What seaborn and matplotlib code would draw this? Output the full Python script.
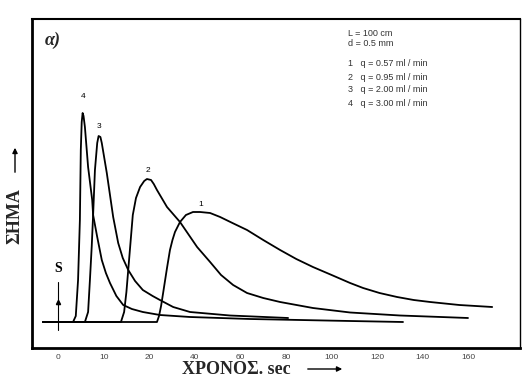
import numpy as np
import pandas as pd
import matplotlib
matplotlib.use("Agg")
import matplotlib.pyplot as plt
import seaborn as sns

# ---- data (time in sec, signal in arbitrary units) ----
t1 = [-3.3, 23.4, 24.3, 25.2, 26.1, 27.8, 29.1, 30.2, 31.3, 33.5, 36.1, 39.2, 42.3, 46.7, 51.1, 56.5, 62.9, 70.0, 77.4, 84.5, 91.8, 100.0, 108.1, 113.8, 121.0, 128.7, 136.0, 143.2, 156.0, 170.4]
s1 = [0.0, 0.0, 0.6, 1.6, 2.9, 5.4, 7.2, 8.2, 9.0, 10.0, 10.7, 11.0, 11.0, 10.9, 10.5, 9.9, 9.2, 8.2, 7.2, 6.3, 5.5, 4.7, 3.9, 3.4, 2.9, 2.5, 2.2, 2.0, 1.7, 1.5]

t2 = [-3.3, 13.8, 14.5, 15.0, 15.4, 16.4, 17.1, 18.0, 18.9, 19.5, 20.8, 22.0, 23.4, 27.8, 33.5, 41.0, 46.7, 51.5, 56.8, 62.9, 70.0, 77.4, 91.8, 108.1, 130.0, 159.8]
s2 = [0.0, 0.0, 1.0, 3.0, 5.2, 10.7, 12.4, 13.5, 14.1, 14.3, 14.2, 13.8, 13.2, 11.5, 10.0, 7.5, 6.0, 4.7, 3.7, 2.9, 2.4, 2.0, 1.4, 0.95, 0.65, 0.4]

t3 = [-3.3, 5.9, 6.6, 7.0, 7.4, 7.7, 8.1, 8.6, 8.9, 9.3, 9.6, 10.7, 12.1, 13.2, 14.2, 15.4, 16.9, 18.6, 21.5, 24.7, 30.5, 37.9, 55.4, 80.9]
s3 = [0.0, 0.0, 1.0, 4.2, 7.6, 10.7, 15.2, 17.9, 18.6, 18.5, 17.9, 14.9, 10.5, 7.9, 6.4, 5.2, 4.1, 3.2, 2.6, 2.2, 1.5, 1.0, 0.65, 0.4]

t4 = [-3.3, 3.3, 3.9, 4.4, 4.8, 5.0, 5.2, 5.4, 5.6, 5.9, 6.6, 7.5, 7.7, 8.6, 9.6, 10.5, 11.4, 12.8, 14.3, 16.2, 18.6, 24.7, 37.9, 64.2, 108.1, 131.3]
s4 = [0.0, 0.0, 0.6, 4.2, 10.2, 17.2, 20.0, 20.9, 20.6, 19.5, 15.5, 12.2, 10.7, 8.5, 6.2, 4.9, 3.9, 2.6, 1.7, 1.3, 1.0, 0.7, 0.5, 0.3, 0.1, 0.0]

curve_names = ["1", "2", "3", "4"]
tick_values = [0, 10, 20, 40, 60, 80, 100, 120, 140, 160]
tick_labels = ["0", "10", "20", "40", "60", "80", "100", "120", "140", "160"]
info_lines = ["L = 100 cm", "d = 0.5 mm",
              "1   q = 0.57 ml / min", "2   q = 0.95 ml / min",
              "3   q = 2.00 ml / min", "4   q = 3.00 ml / min"]

frames = []
for name, t, s in zip(curve_names, [t1, t2, t3, t4], [s1, s2, s3, s4]):
    frames.append(pd.DataFrame({"t": t, "s": s, "curve": name}))
df = pd.concat(frames, ignore_index=True)

sns.set_theme(style="white")
plt.rcParams["font.family"] = ["Liberation Sans", "DejaVu Sans"]

fig = plt.figure(figsize=(5.22, 3.80), dpi=100)
ax = fig.add_axes([32 / 522, 1 - 348 / 380, 488 / 522, (348 - 19) / 380])

sns.lineplot(data=df, x="t", y="s", hue="curve", units="curve", estimator=None,
             sort=False, palette=["black"] * 4, legend=False, linewidth=1.3, ax=ax)


def fwd(t):
    t = np.asarray(t, dtype=float)
    return np.where(t <= 20, t / 10.0, 2.0 + (t - 20.0) / 20.0)


def inv(u):
    u = np.asarray(u, dtype=float)
    return np.where(u <= 2, u * 10.0, 20.0 + (u - 2.0) * 20.0)


ax.set_xscale("function", functions=(fwd, inv))
ax.set_xlim(-5.7, 182.6)
ax.set_ylim(-2.6, 30.3)
ax.set_xticks(tick_values)
ax.set_xticklabels(tick_labels)
ax.set_yticks([])
ax.tick_params(axis="x", length=0, pad=4, labelsize=6, labelcolor="#444444")
ax.set_xlabel("")
ax.set_ylabel("")
for side, lw in [("left", 2.0), ("bottom", 2.0), ("top", 1.5), ("right", 1.0)]:
    ax.spines[side].set_visible(True)
    ax.spines[side].set_color("black")
    ax.spines[side].set_linewidth(lw)

# curve labels
lab_pos = {"4": (5.5, 22.5), "3": (9.0, 19.5), "2": (19.8, 15.1), "1": (42.7, 11.7)}
for name, (tx, sy) in lab_pos.items():
    ax.text(tx, sy, name, fontsize=6, ha="center", va="center", color="black")

# S marker (injection point)
ax.text(0, 5.4, "S", fontsize=10, fontweight="bold", family="Liberation Serif",
        ha="center", va="center", color="black")
ax.plot([0, 0], [4.0, -0.8], color="black", lw=0.8)
ax.plot([0], [2.0], marker="^", markersize=3, color="black")

# info text
ys = [33, 44, 63, 77, 90, 103]
for line, y in zip(info_lines, ys):
    fig.text(348 / 522, 1 - y / 380, line, fontsize=6.5, color="#333333",
             ha="left", va="center")

# panel letter
fig.text(53 / 522, 1 - 40 / 380, "α)", fontsize=13, fontweight="bold", style="italic",
         family="Liberation Serif", ha="center", va="center")

# y label with arrow
fig.text(15 / 522, 1 - 216 / 380, "ΣΗΜΑ", rotation=90, fontsize=13, fontweight="bold",
         family="Liberation Serif", ha="center", va="center")
fig.add_artist(matplotlib.patches.FancyArrowPatch(
    (15 / 522, 1 - 175 / 380), (15 / 522, 1 - 145 / 380), transform=fig.transFigure,
    arrowstyle="-|>,head_length=3,head_width=1.5", color="black", lw=1.0))

# x label with arrow
fig.text(236 / 522, 1 - 369 / 380, "ΧΡΟΝΟΣ. sec", fontsize=13, fontweight="bold",
         family="Liberation Serif", ha="center", va="center")
fig.add_artist(matplotlib.patches.FancyArrowPatch(
    (305 / 522, 1 - 369 / 380), (345 / 522, 1 - 369 / 380), transform=fig.transFigure,
    arrowstyle="-|>,head_length=3,head_width=1.5", color="black", lw=1.0))

fig.savefig("out.png", dpi=100)
